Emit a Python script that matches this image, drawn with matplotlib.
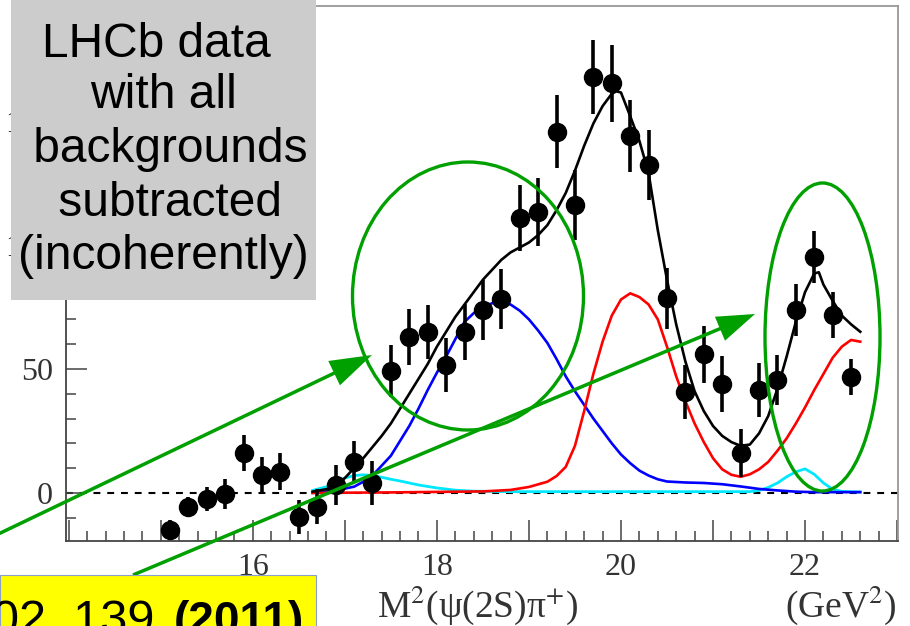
import matplotlib
matplotlib.use('Agg')
import matplotlib.pyplot as plt
from matplotlib.patches import Rectangle, Ellipse, FancyArrow
from matplotlib.ticker import MultipleLocator, FuncFormatter

plt.rcParams['mathtext.fontset'] = 'stix'

# ============================================================
# Data: background-subtracted LHCb points
# ============================================================
mass = [15.1, 15.3, 15.5, 15.7, 15.9, 16.1, 16.3, 16.5, 16.7, 16.9,
        17.1, 17.3, 17.5, 17.7, 17.9, 18.1, 18.3, 18.5, 18.7, 18.9,
        19.1, 19.3, 19.5, 19.7, 19.9, 20.1, 20.3, 20.5, 20.7, 20.9,
        21.1, 21.3, 21.5, 21.7, 21.9, 22.1, 22.3, 22.5]
counts = [-14.9, -5.6, -2.4, -0.4, 16.1, 7.3, 8.5, -9.7, -5.6, 3.2,
          12.4, 4.0, 49.2, 62.9, 64.9, 51.6, 64.9, 73.8, 78.2, 110.9,
          113.3, 145.6, 116.1, 167.7, 165.3, 144.0, 132.3, 78.6, 40.7, 56.0,
          44.0, 16.1, 41.5, 45.6, 73.8, 95.2, 71.8, 46.8]
errors = [4.0, 4.0, 4.8, 6.0, 7.4, 7.0, 7.4, 6.7, 7.0, 8.0,
          8.4, 8.7, 10.4, 11.4, 11.0, 11.0, 11.4, 12.0, 12.0, 13.3,
          13.7, 14.7, 14.0, 15.0, 15.5, 14.5, 14.0, 12.3, 10.7, 11.5,
          11.3, 9.7, 10.7, 10.0, 10.4, 10.4, 9.4, 7.4]

# fit curves
total_x = [16.65, 16.8, 16.9, 17.0, 17.1, 17.2, 17.3, 17.4, 17.5, 17.6,
           17.7, 17.8, 17.9, 18.0, 18.1, 18.2, 18.3, 18.4, 18.5, 18.6,
           18.7, 18.8, 18.9, 19.0, 19.1, 19.2, 19.3, 19.4, 19.5, 19.6,
           19.7, 19.8, 19.9, 19.95, 20.0, 20.1, 20.2, 20.3, 20.4, 20.5,
           20.6, 20.7, 20.8, 20.9, 21.0, 21.1, 21.2, 21.3, 21.4, 21.5,
           21.6, 21.7, 21.8, 21.9, 22.0, 22.1, 22.15, 22.2, 22.3, 22.4,
           22.5, 22.6]
total_y = [0.5, 1.5, 3, 6, 10, 14, 18.5, 23, 28, 34,
           40, 46, 52, 59, 65, 71, 76, 81, 86, 90,
           94, 97, 99, 101, 104, 108, 114, 121, 130, 140,
           149, 156, 161, 162, 161.5, 152, 142, 129, 106, 86,
           68, 53, 41, 33, 27, 23, 20.5, 19, 19.5, 24,
           31, 42, 55, 69, 81, 88.5, 89, 84, 77.5, 71.5,
           68, 65]

red_x = [16.65, 17.5, 18.0, 18.5, 18.8, 19.0, 19.2, 19.3, 19.4, 19.5,
         19.6, 19.7, 19.8, 19.9, 20.0, 20.1, 20.2, 20.3, 20.4, 20.5,
         20.6, 20.7, 20.8, 20.9, 21.0, 21.1, 21.2, 21.3, 21.4, 21.5,
         21.6, 21.7, 21.8, 21.9, 22.0, 22.1, 22.2, 22.3, 22.4, 22.5,
         22.6]
red_y = [0, 0.2, 0.4, 0.6, 1.2, 2.4, 4.5, 6.8, 10.5, 19,
         33, 48, 61, 71.5, 78, 80.5, 79, 76, 70, 59,
         47, 37, 28, 20.5, 14, 9.5, 7.3, 6.5, 7.5, 9.5,
         12.5, 17, 22, 28, 34.5, 41.5, 48, 54.5, 59, 61.7,
         61]

blue_x = [16.65, 16.9, 17.1, 17.2, 17.3, 17.4, 17.5, 17.6, 17.7, 17.8,
          17.9, 18.0, 18.1, 18.2, 18.3, 18.4, 18.5, 18.6, 18.7, 18.8,
          18.9, 19.0, 19.1, 19.2, 19.3, 19.4, 19.5, 19.6, 19.7, 19.8,
          19.9, 20.0, 20.1, 20.2, 20.3, 20.4, 20.5, 20.7, 20.9, 21.1,
          21.3, 21.5, 21.7, 21.9, 22.1, 22.6]
blue_y = [0, 1, 2.5, 4.5, 7, 11, 15, 21, 27, 34,
          41.5, 48.5, 55, 62, 69, 72.5, 75, 76.5, 77, 76,
          73.5, 70, 65.5, 60.5, 54, 47, 41, 35.5, 30, 25,
          20, 15.5, 12, 9, 7, 5.5, 4.6, 4.2, 4, 3.5,
          2.6, 1.6, 1, 0.5, 0.3, 0.3]

cyan_x = [16.65, 16.8, 16.9, 17.0, 17.1, 17.2, 17.3, 17.4, 17.5, 17.6,
          17.8, 18.0, 18.2, 18.4, 18.8, 21.4, 21.5, 21.6, 21.7, 21.8,
          21.9, 22.0, 22.1, 22.2, 22.3, 22.4, 22.6]
cyan_y = [1, 2.5, 4, 6, 7, 7.3, 7, 6.3, 5.5, 4.8,
          3.2, 2, 1.1, 0.7, 0.5, 0.5, 1, 2.2, 4, 6.5,
          8.5, 9.7, 7.5, 4, 1.5, 0.6, 0.4]

x_labelled = [16, 18, 20, 22]

box_lines = ['LHCb data ', 'with all', ' backgrounds', ' subtracted', '(incoherently)']
box_baselines = [57, 108, 162, 216, 269]

green = '#00a000'

# ============================================================
# Main plot
# ============================================================
fig = plt.figure(figsize=(9.1, 6.26), dpi=100)
ax = fig.add_axes([66/910, 85/626, 832/910, 535/626])

ax.axhline(0, color='black', ls=(0, (3.3, 3.3)), lw=1.5, zorder=1)
ax.plot(cyan_x, cyan_y, color='#00e8ff', lw=2.0, zorder=2)
ax.plot(blue_x, blue_y, color='#0000ff', lw=1.9, zorder=2)
ax.plot(red_x, red_y, color='#ff0000', lw=1.9, zorder=2)
ax.plot(total_x, total_y, color='black', lw=1.9, zorder=3)
ax.errorbar(mass, counts, yerr=errors, fmt='o', color='black',
            ms=13, elinewidth=2.6, capsize=0, zorder=4)

ax.set_xlim(13.97, 23.01)
ax.set_ylim(-19.4, 196.4)

ax.xaxis.set_major_locator(MultipleLocator(1))
ax.xaxis.set_minor_locator(MultipleLocator(0.2))
ax.xaxis.set_major_formatter(FuncFormatter(
    lambda v, p: f'{v:.0f}' if round(v) in x_labelled else ''))
ax.yaxis.set_major_locator(MultipleLocator(50))
ax.yaxis.set_minor_locator(MultipleLocator(10))

ax.tick_params(which='both', direction='in', color='#444', width=1.1,
               labelsize=23, labelcolor='#333')
ax.tick_params(which='major', length=15)
ax.tick_params(which='minor', length=7.5)
ax.tick_params(axis='x', pad=8.6)
ax.tick_params(axis='y', pad=9.4)
for lab in ax.get_xticklabels() + ax.get_yticklabels():
    lab.set_family('Liberation Serif')

for side in ['left', 'bottom']:
    ax.spines[side].set_color('#444')
    ax.spines[side].set_linewidth(1.3)
for side in ['top', 'right']:
    ax.spines[side].set_color('#999')
    ax.spines[side].set_linewidth(1.3)

# ============================================================
# Overlay (pixel coordinates, y down)
# ============================================================
ov = fig.add_axes([0, 0, 1, 1], zorder=5)
ov.set_xlim(0, 910)
ov.set_ylim(626, 0)
ov.axis('off')
ov.patch.set_alpha(0)

ov.text(377, 617, r'M$^{2}$(ψ(2S)π$^{+}$)', fontsize=27,
        family='Liberation Serif', color='#333', va='baseline', ha='left')
ov.text(897, 617, r'(GeV$^{2}$)', fontsize=27,
        family='Liberation Serif', color='#333', va='baseline', ha='right')

ov.add_patch(Rectangle((11, 0), 305, 300, fc='#cccccc', ec='none'))
for line, base in zip(box_lines, box_baselines):
    ov.text(163.5, base, line, fontsize=34.5, family='Liberation Sans',
            ha='center', va='baseline', color='black')

ov.add_patch(Ellipse((468, 296), 231, 268, fill=False, ec=green, lw=2.4))
ov.add_patch(Ellipse((822.5, 337), 115, 308, fill=False, ec=green, lw=2.4))

ov.add_patch(FancyArrow(-10, 538, 382, -183, width=3.5, head_width=27,
                        head_length=42, length_includes_head=True,
                        color=green, lw=0))
ov.add_patch(FancyArrow(133, 575, 622, -261, width=3.5, head_width=26,
                        head_length=38, length_includes_head=True,
                        color=green, lw=0))

ov.add_patch(Rectangle((0, 575), 316, 60, fc='#ffff00', ec='#8aa0c8', lw=0.8))
ov.text(-8, 634, '02, 139 ', fontsize=35, family='Liberation Sans',
        ha='left', va='baseline', color='black')
ov.text(304, 634, '(2011)', fontsize=33, family='Liberation Sans',
        weight='bold', ha='right', va='baseline', color='black')

fig.savefig('out.png', dpi=100)
